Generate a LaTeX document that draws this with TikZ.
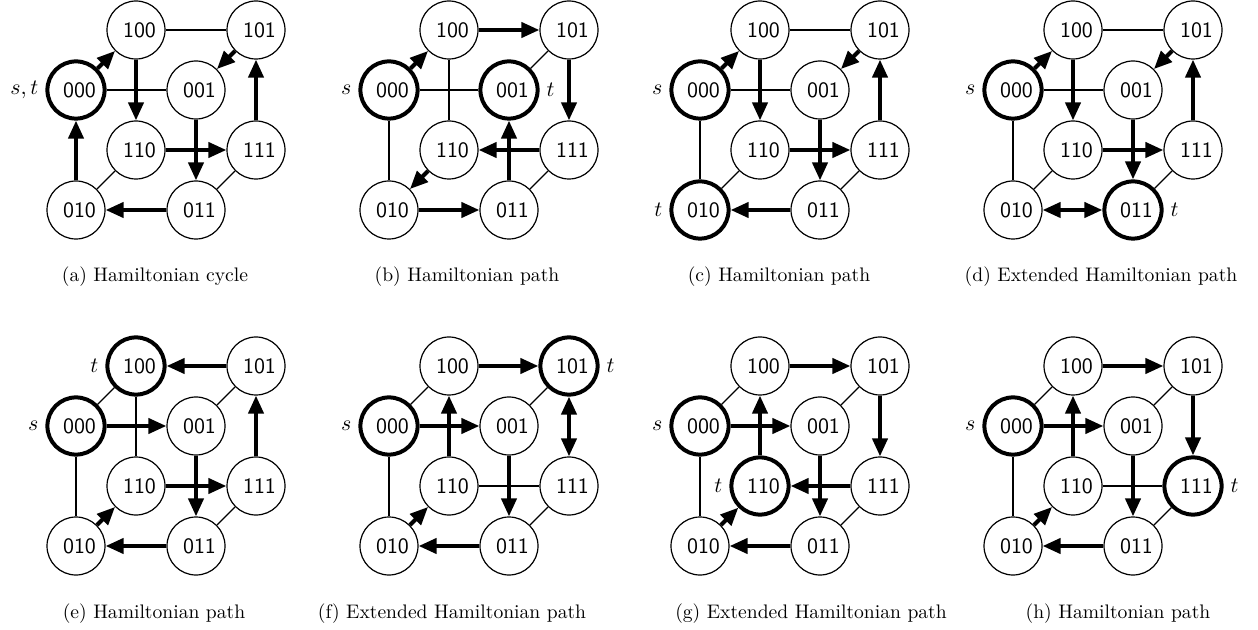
\documentclass[tikz,border=0pt]{standalone}
\usetikzlibrary{arrows.meta}

\tikzset{
  vtx/.style={circle, draw, line width=0.6pt, minimum size=29pt, inner sep=0pt,
    fill=white, font=\fontsize{10.95pt}{13pt}\selectfont\sffamily},
  endpt/.style={line width=2pt, minimum size=28.6pt},
  lbl/.style={font=\fontsize{10.95pt}{13pt}\selectfont},
  plain/.style={line width=0.6pt},
  arr/.style={line width=2pt, -{Triangle[length=9pt,width=7.5pt]}},
  dbl/.style={line width=2pt, {Triangle[length=9pt,width=7.5pt]}-{Triangle[length=9pt,width=7.5pt]}},
  captext/.style={anchor=base, inner sep=0pt, font=\fontsize{9.8pt}{12pt}\selectfont},
}

% the eight vertices of the 3-cube; #1 = name prefix, (#2,#3) = panel origin
\newcommand{\cubenodes}[3]{%
  \begin{scope}[shift={(#2,#3)}]
    \node[vtx, #1100/.try] (#1100) at (60,0)    {\hspace*{3.5pt}100};
    \node[vtx, #1101/.try] (#1101) at (180,0)   {\hspace*{3.5pt}101};
    \node[vtx, #1000/.try] (#1000) at (0,60)    {\hspace*{3.5pt}000};
    \node[vtx, #1001/.try] (#1001) at (120,60)  {\hspace*{3.5pt}001};
    \node[vtx, #1110/.try] (#1110) at (60,120)  {\hspace*{3.5pt}110};
    \node[vtx, #1111/.try] (#1111) at (180,120) {\hspace*{3.5pt}111};
    \node[vtx, #1010/.try] (#1010) at (0,180)   {\hspace*{3.5pt}010};
    \node[vtx, #1011/.try] (#1011) at (120,180) {\hspace*{3.5pt}011};
  \end{scope}}

% start and end vertices of each panel
\tikzset{
  pa000/.style={endpt, label={[lbl]left:$s,t$}},
  pb000/.style={endpt, label={[lbl]left:$s$}},
  pb001/.style={endpt, label={[lbl]right:$t$}},
  pc000/.style={endpt, label={[lbl]left:$s$}},
  pc010/.style={endpt, label={[lbl]left:$t$}},
  pd000/.style={endpt, label={[lbl]left:$s$}},
  pd011/.style={endpt, label={[lbl]right:$t$}},
  pe000/.style={endpt, label={[lbl]left:$s$}},
  pe100/.style={endpt, label={[lbl]left:$t$}},
  pf000/.style={endpt, label={[lbl]left:$s$}},
  pf101/.style={endpt, label={[lbl]right:$t$}},
  pg000/.style={endpt, label={[lbl]left:$s$}},
  pg110/.style={endpt, label={[lbl]left:$t$}},
  ph000/.style={endpt, label={[lbl]left:$s$}},
  ph111/.style={endpt, label={[lbl]right:$t$}},
}

\begin{document}
\begin{tikzpicture}[x=0.5pt, y=-0.5pt]
\useasboundingbox (0,0) rectangle (1258,630);

% ---------- top row ----------
\cubenodes{pa}{76}{30}
\draw[plain] (pa100) -- (pa101);
\draw[plain] (pa000) -- (pa001);
\draw[plain] (pa010) -- (pa110);
\draw[plain] (pa011) -- (pa111);
\draw[arr] (pa000) -- (pa100);
\draw[arr] (pa100) -- (pa110);
\draw[arr] (pa110) -- (pa111);
\draw[arr] (pa111) -- (pa101);
\draw[arr] (pa101) -- (pa001);
\draw[arr] (pa001) -- (pa011);
\draw[arr] (pa011) -- (pa010);
\draw[arr] (pa010) -- (pa000);
\node[captext] (capa) at (155,282) {(a) Hamiltonian cycle};

\cubenodes{pb}{389}{30}
\draw[plain] (pb000) -- (pb001);
\draw[plain] (pb000) -- (pb010);
\draw[plain] (pb100) -- (pb110);
\draw[plain] (pb101) -- (pb001);
\draw[plain] (pb011) -- (pb111);
\draw[arr] (pb000) -- (pb100);
\draw[arr] (pb100) -- (pb101);
\draw[arr] (pb101) -- (pb111);
\draw[arr] (pb111) -- (pb110);
\draw[arr] (pb110) -- (pb010);
\draw[arr] (pb010) -- (pb011);
\draw[arr] (pb011) -- (pb001);
\node[captext] (capb) at (467,282) {(b) Hamiltonian path};

\cubenodes{pc}{700}{30}
\draw[plain] (pc100) -- (pc101);
\draw[plain] (pc000) -- (pc001);
\draw[plain] (pc000) -- (pc010);
\draw[plain] (pc010) -- (pc110);
\draw[plain] (pc011) -- (pc111);
\draw[arr] (pc000) -- (pc100);
\draw[arr] (pc100) -- (pc110);
\draw[arr] (pc110) -- (pc111);
\draw[arr] (pc111) -- (pc101);
\draw[arr] (pc101) -- (pc001);
\draw[arr] (pc001) -- (pc011);
\draw[arr] (pc011) -- (pc010);
\node[captext] (capc) at (779,282) {(c) Hamiltonian path};

\cubenodes{pd}{1013}{30}
\draw[plain] (pd100) -- (pd101);
\draw[plain] (pd000) -- (pd001);
\draw[plain] (pd000) -- (pd010);
\draw[plain] (pd010) -- (pd110);
\draw[plain] (pd011) -- (pd111);
\draw[arr] (pd000) -- (pd100);
\draw[arr] (pd100) -- (pd110);
\draw[arr] (pd110) -- (pd111);
\draw[arr] (pd111) -- (pd101);
\draw[arr] (pd101) -- (pd001);
\draw[arr] (pd001) -- (pd011);
\draw[dbl] (pd010) -- (pd011);
\node[captext] (capd) at (1101,282) {(d) Extended Hamiltonian path};

% ---------- bottom row ----------
\cubenodes{pe}{76}{366}
\draw[plain] (pe000) -- (pe100);
\draw[plain] (pe000) -- (pe010);
\draw[plain] (pe100) -- (pe110);
\draw[plain] (pe001) -- (pe101);
\draw[plain] (pe011) -- (pe111);
\draw[arr] (pe000) -- (pe001);
\draw[arr] (pe001) -- (pe011);
\draw[arr] (pe011) -- (pe010);
\draw[arr] (pe010) -- (pe110);
\draw[arr] (pe110) -- (pe111);
\draw[arr] (pe111) -- (pe101);
\draw[arr] (pe101) -- (pe100);
\node[captext] (cape) at (154,618) {(e) Hamiltonian path};

\cubenodes{pf}{389}{366}
\draw[plain] (pf000) -- (pf100);
\draw[plain] (pf000) -- (pf010);
\draw[plain] (pf001) -- (pf101);
\draw[plain] (pf110) -- (pf111);
\draw[plain] (pf011) -- (pf111);
\draw[arr] (pf000) -- (pf001);
\draw[arr] (pf001) -- (pf011);
\draw[arr] (pf011) -- (pf010);
\draw[arr] (pf010) -- (pf110);
\draw[arr] (pf110) -- (pf100);
\draw[arr] (pf100) -- (pf101);
\draw[dbl] (pf101) -- (pf111);
\node[captext] (capf) at (452,618) {(f) Extended Hamiltonian path};

\cubenodes{pg}{700}{366}
\draw[plain] (pg000) -- (pg100);
\draw[plain] (pg000) -- (pg010);
\draw[plain] (pg001) -- (pg101);
\draw[plain] (pg011) -- (pg111);
\draw[arr] (pg000) -- (pg001);
\draw[arr] (pg001) -- (pg011);
\draw[arr] (pg011) -- (pg010);
\draw[arr] (pg010) -- (pg110);
\draw[arr] (pg110) -- (pg100);
\draw[arr] (pg100) -- (pg101);
\draw[arr] (pg101) -- (pg111);
\draw[arr] (pg111) -- (pg110);
\node[captext] (capg) at (811,618) {(g) Extended Hamiltonian path};

\cubenodes{ph}{1013}{366}
\draw[plain] (ph000) -- (ph100);
\draw[plain] (ph000) -- (ph010);
\draw[plain] (ph001) -- (ph101);
\draw[plain] (ph110) -- (ph111);
\draw[plain] (ph011) -- (ph111);
\draw[arr] (ph000) -- (ph001);
\draw[arr] (ph001) -- (ph011);
\draw[arr] (ph011) -- (ph010);
\draw[arr] (ph010) -- (ph110);
\draw[arr] (ph110) -- (ph100);
\draw[arr] (ph100) -- (ph101);
\draw[arr] (ph101) -- (ph111);
\node[captext] (caph) at (1118,618) {(h) Hamiltonian path};
\end{tikzpicture}
\end{document}
